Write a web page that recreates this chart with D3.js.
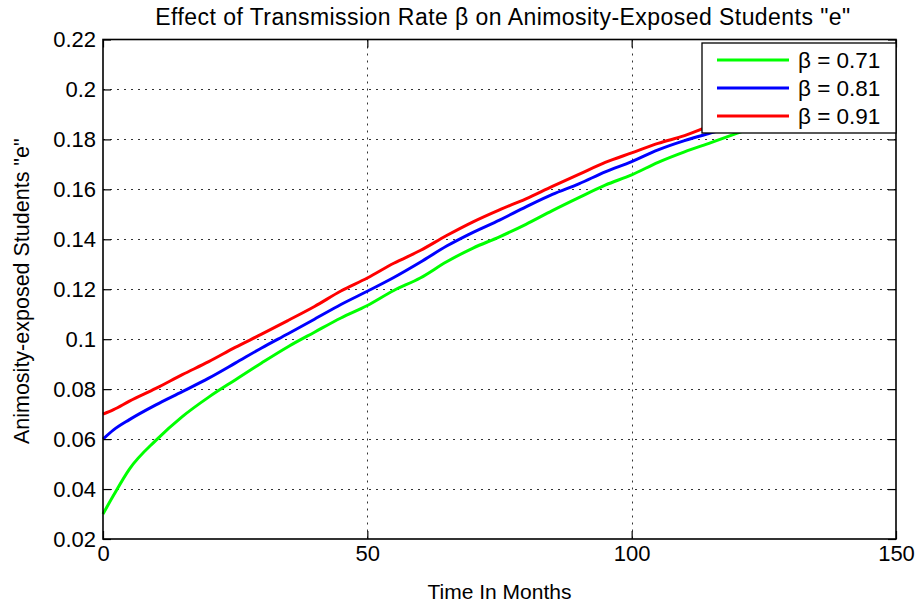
<!DOCTYPE html>
<html>
<head>
<meta charset="utf-8">
<script src="https://cdn.jsdelivr.net/npm/d3@7"></script>
<style>
  html, body { margin: 0; padding: 0; background: #fff; }
  svg { display: block; }
  text { font-family: "Liberation Sans", Arial, Helvetica, sans-serif; fill: #000; }
</style>
</head>
<body>
<script>
// ---- Data ----
const months = [0, 2, 5, 10, 15, 20, 25, 30, 35, 40, 45, 50, 55, 60, 65, 70, 75, 80, 85, 90, 95, 100, 105, 110, 115, 120, 130, 140, 150];
const beta071 = [0.0300, 0.0375, 0.0480, 0.0595, 0.0690, 0.0768, 0.0837, 0.0905, 0.0970, 0.1028, 0.1085, 0.1135, 0.1195, 0.1245, 0.1310, 0.1365, 0.1410, 0.1460, 0.1515, 0.1567, 0.1617, 0.1658, 0.1708, 0.1750, 0.1787, 0.1825, 0.1895, 0.1965, 0.2030];
const beta081 = [0.0600, 0.0637, 0.0678, 0.0737, 0.0790, 0.0844, 0.0904, 0.0965, 0.1022, 0.1080, 0.1139, 0.1192, 0.1247, 0.1308, 0.1373, 0.1428, 0.1477, 0.1530, 0.1580, 0.1622, 0.1670, 0.1711, 0.1758, 0.1795, 0.1826, 0.1860, 0.1930, 0.2000, 0.2065];
const beta091 = [0.0700, 0.0718, 0.0752, 0.0803, 0.0858, 0.0910, 0.0967, 0.1020, 0.1075, 0.1131, 0.1193, 0.1245, 0.1304, 0.1355, 0.1415, 0.1470, 0.1518, 0.1562, 0.1612, 0.1660, 0.1708, 0.1746, 0.1784, 0.1815, 0.1855, 0.1890, 0.1960, 0.2030, 0.2090];
const seriesNames = ["\u03b2 = 0.71", "\u03b2 = 0.81", "\u03b2 = 0.91"];
const seriesColors = ["#00ff00", "#0000ff", "#ff0000"];
const xTicks = [0, 50, 100, 150];
const xTickLabels = ["0", "50", "100", "150"];
const yTicks = [0.02, 0.04, 0.06, 0.08, 0.10, 0.12, 0.14, 0.16, 0.18, 0.20, 0.22];
const yTickLabels = ["0.02", "0.04", "0.06", "0.08", "0.1", "0.12", "0.14", "0.16", "0.18", "0.2", "0.22"];
const titleText = "Effect of Transmission Rate \u03b2 on Animosity-Exposed Students \"e\"";
const xLabelText = "Time In Months";
const yLabelText = "Animosity-exposed Students \"e\"";

(function () {
const W = 918, H = 604;
const pL = 103, pR = 896, pT = 39.5, pB = 539;

const svg = d3.select("body").append("svg").attr("width", W).attr("height", H);

const x = d3.scaleLinear().domain([0, 150]).range([pL, pR]);
const y = d3.scaleLinear().domain([0.02, 0.22]).range([pB, pT]);

// grid
const grid = svg.append("g").attr("stroke", "#333").attr("stroke-width", 1).attr("stroke-dasharray", "2,5");
grid.selectAll("line.gy").data(yTicks.slice(1, -1)).join("line")
  .attr("x1", pL).attr("x2", pR)
  .attr("y1", d => Math.round(y(d)) + 0.5).attr("y2", d => Math.round(y(d)) + 0.5);
grid.selectAll("line.gx").data(xTicks.slice(1, -1)).join("line")
  .attr("y1", pT).attr("y2", pB)
  .attr("x1", d => Math.round(x(d)) + 0.5).attr("x2", d => Math.round(x(d)) + 0.5);

// lines
const allSeries = [beta071, beta081, beta091];
const line = d3.line().x((d, i) => x(months[i])).y(d => y(d)).curve(d3.curveMonotoneX);
svg.append("g").selectAll("path").data(allSeries).join("path")
  .attr("d", d => line(d))
  .attr("fill", "none")
  .attr("stroke", (d, i) => seriesColors[i])
  .attr("stroke-width", 3)
  .attr("stroke-linejoin", "round");

// axes
const fmtY = d => yTickLabels[yTicks.indexOf(d)];
const fmtX = d => xTickLabels[xTicks.indexOf(d)];
const tickFont = 22;

const gl = svg.append("g").attr("transform", `translate(${pL},0)`)
  .call(d3.axisLeft(y).tickValues(yTicks).tickFormat(fmtY).tickSize(-8).tickSizeOuter(0).tickPadding(7));
const gb = svg.append("g").attr("transform", `translate(0,${pB})`)
  .call(d3.axisBottom(x).tickValues(xTicks).tickFormat(fmtX).tickSize(-8).tickSizeOuter(0).tickPadding(6));
const gr = svg.append("g").attr("transform", `translate(${pR},0)`)
  .call(d3.axisRight(y).tickValues(yTicks).tickFormat("").tickSize(-8).tickSizeOuter(0));
const gt = svg.append("g").attr("transform", `translate(0,${pT})`)
  .call(d3.axisTop(x).tickValues(xTicks).tickFormat("").tickSize(-8).tickSizeOuter(0));
[gl, gb, gr, gt].forEach(g => {
  g.select(".domain").remove();
  g.selectAll("line").attr("stroke", "#000").attr("stroke-width", 1.2);
  g.selectAll("text").attr("font-family", "Liberation Sans, Arial, sans-serif").attr("font-size", tickFont).attr("fill", "#000");
});

// box
svg.append("rect").attr("x", pL).attr("y", pT).attr("width", pR - pL).attr("height", pB - pT)
  .attr("fill", "none").attr("stroke", "#000").attr("stroke-width", 1.6);

// title & labels
svg.append("text").attr("x", 503).attr("y", 25).attr("text-anchor", "middle")
  .attr("font-size", 23).attr("letter-spacing", 0.45).text(titleText);
svg.append("text").attr("x", (pL + pR) / 2).attr("y", 599).attr("text-anchor", "middle")
  .attr("font-size", 21).text(xLabelText);
svg.append("text").attr("transform", `translate(29,${(pT + pB) / 2 + 2}) rotate(-90)`).attr("text-anchor", "middle")
  .attr("font-size", 21.5).text(yLabelText);

// legend
const lg = svg.append("g");
lg.append("rect").attr("x", 702).attr("y", 43).attr("width", pR - 702).attr("height", 90)
  .attr("fill", "#fff").attr("stroke", "#000").attr("stroke-width", 1.3);
const rowsY = [60, 88, 116];
seriesNames.forEach((name, i) => {
  lg.append("line").attr("x1", 717).attr("x2", 789).attr("y1", rowsY[i]).attr("y2", rowsY[i])
    .attr("stroke", seriesColors[i]).attr("stroke-width", 3);
  lg.append("text").attr("x", 798).attr("y", rowsY[i] + 7.5).attr("font-size", 22.5).text(name);
});
})();
</script>
</body>
</html>
